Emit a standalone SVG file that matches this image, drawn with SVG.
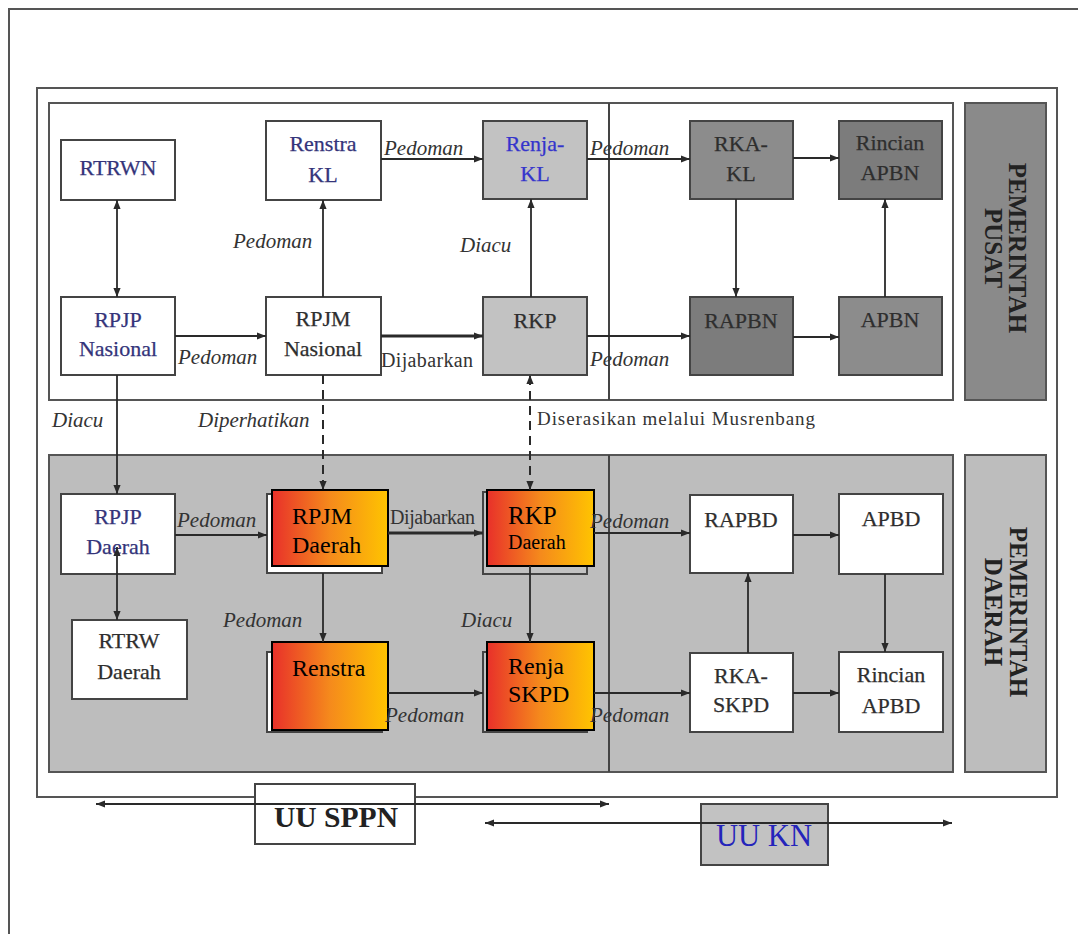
<svg xmlns="http://www.w3.org/2000/svg" width="1078" height="934" viewBox="0 0 1078 934">
<style>
.frame{fill:none;stroke:#555;stroke-width:2}
.panelTop{fill:#fff;stroke:#555;stroke-width:2}
.panelBot{fill:#bdbdbd;stroke:#555;stroke-width:2}
.side1{fill:#8a8a8a;stroke:#555;stroke-width:2}
.side2{fill:#bdbdbd;stroke:#555;stroke-width:2}
.w{fill:#fff;stroke:#444;stroke-width:2}
.g1{fill:#c2c2c2;stroke:#444;stroke-width:2}
.g2{fill:#8c8c8c;stroke:#444;stroke-width:2}
.g3{fill:#7c7c7c;stroke:#444;stroke-width:2}
.ov{fill:url(#grad);stroke:#000;stroke-width:2}
.t{font-family:"Liberation Serif",serif;font-size:22px;fill:#2e2e2e;text-anchor:middle;stroke:#2e2e2e;stroke-width:0.25}
.tb{fill:#34347a;stroke:#34347a}
.tbb{fill:#3434cc;stroke:#3434cc}
.ot{font-family:"Liberation Serif",serif;font-size:24px;fill:#000}
.lab{font-family:"Liberation Serif",serif;font-size:21px;font-style:italic;fill:#333}
.labn{font-family:"Liberation Serif",serif;font-size:20px;fill:#333}
.side{font-family:"Liberation Serif",serif;font-size:25px;font-weight:bold;fill:#222;text-anchor:middle}
.c{stroke:#2a2a2a;stroke-width:1.8;fill:none}
.thick{stroke-width:3.2}
.dash{stroke-dasharray:9,6;stroke-width:2}
</style>
<defs>
<linearGradient id="grad" x1="0" y1="0" x2="1" y2="0">
<stop offset="0" stop-color="#e8302a"/>
<stop offset="0.5" stop-color="#f58a1c"/>
<stop offset="1" stop-color="#ffc400"/>
</linearGradient>
<marker id="ah" viewBox="0 0 10 10" refX="10" refY="5" markerWidth="9" markerHeight="9" markerUnits="userSpaceOnUse" orient="auto-start-reverse">
<path d="M0,1 L10,5 L0,9 z" fill="#2a2a2a"/>
</marker>
</defs>
<rect width="1078" height="934" fill="#fff"/>
<g id="background">
<path d="M9,934 V9 H1078" class="frame"/>
<rect x="37" y="88" width="1020" height="709" class="frame"/>
<rect x="49" y="103" width="904" height="297" class="panelTop"/>
<rect x="49" y="455" width="904" height="317" class="panelBot"/>
<line x1="609" y1="103" x2="609" y2="400" stroke="#444" stroke-width="2"/>
<line x1="609" y1="455" x2="609" y2="772" stroke="#444" stroke-width="2"/>
</g>
<g id="pemerintah-pusat">
<rect x="965" y="103" width="81" height="297" class="side1"/>
<text class="side" transform="translate(1009,248) rotate(90)">PEMERINTAH</text>
<text class="side" transform="translate(985,248) rotate(90)">PUSAT</text>
</g>
<g id="pemerintah-daerah">
<rect x="965" y="455" width="81" height="317" class="side2"/>
<text class="side" transform="translate(1010,612) rotate(90)">PEMERINTAH</text>
<text class="side" transform="translate(985,612) rotate(90)">DAERAH</text>
</g>
<g id="rtrwn"><rect x="61" y="140" width="114" height="60" class="w"/><text class="t tb" x="118" y="175">RTRWN</text></g>
<g id="renstra-kl"><rect x="266" y="121" width="115" height="79" class="w"/><text class="t tb" x="323" y="151">Renstra</text><text class="t tb" x="323" y="182">KL</text></g>
<g id="renja-kl"><rect x="483" y="121" width="104" height="78" class="g1"/><text class="t tbb" x="535" y="151">Renja-</text><text class="t tbb" x="535" y="181">KL</text></g>
<g id="rka-kl"><rect x="690" y="121" width="103" height="78" class="g2"/><text class="t" x="741" y="151">RKA-</text><text class="t" x="741" y="181">KL</text></g>
<g id="rincian-apbn"><rect x="839" y="121" width="103" height="78" class="g3"/><text class="t" x="890" y="150">Rincian</text><text class="t" x="890" y="180">APBN</text></g>
<g id="rpjp-nasional"><rect x="61" y="297" width="114" height="78" class="w"/><text class="t tb" x="118" y="327">RPJP</text><text class="t tb" x="118" y="356">Nasional</text></g>
<g id="rpjm-nasional"><rect x="266" y="297" width="115" height="78" class="w"/><text class="t" x="323" y="326">RPJM</text><text class="t" x="323" y="356">Nasional</text></g>
<g id="rkp"><rect x="483" y="297" width="104" height="78" class="g1"/><text class="t" x="535" y="328">RKP</text></g>
<g id="rapbn"><rect x="690" y="297" width="103" height="78" class="g3"/><text class="t" x="741" y="328">RAPBN</text></g>
<g id="apbn"><rect x="839" y="297" width="103" height="78" class="g2"/><text class="t" x="890" y="327">APBN</text></g>
<g id="rpjp-daerah"><rect x="61" y="494" width="114" height="80" class="w"/><text class="t tb" x="118" y="524">RPJP</text><text class="t tb" x="118" y="554">Daerah</text></g>
<g id="rtrw-daerah"><rect x="72" y="620" width="115" height="79" class="w"/><text class="t" x="129" y="648">RTRW</text><text class="t" x="129" y="679">Daerah</text></g>
<g id="rpjm-daerah"><rect x="267" y="494" width="115" height="79" class="w"/><rect x="272" y="490" width="116" height="76" class="ov"/><text class="ot" x="292" y="524">RPJM</text><text class="ot" x="292" y="553">Daerah</text></g>
<g id="renstra-skpd"><rect x="267" y="652" width="115" height="80" class="w"/><rect x="272" y="642" width="116" height="88" class="ov"/><text class="ot" x="292" y="676">Renstra</text></g>
<g id="rkp-daerah"><rect x="483" y="492" width="104" height="82" class="g1"/><rect x="487" y="490" width="107" height="76" class="ov"/><text class="ot" x="508" y="524" style="font-size:25px">RKP</text><text class="ot" x="508" y="549" style="font-size:20px">Daerah</text></g>
<g id="renja-skpd"><rect x="483" y="652" width="104" height="80" class="g1"/><rect x="487" y="642" width="107" height="88" class="ov"/><text class="ot" x="508" y="674">Renja</text><text class="ot" x="508" y="702">SKPD</text></g>
<g id="rapbd"><rect x="690" y="495" width="103" height="78" class="w"/><text class="t" x="741" y="527">RAPBD</text></g>
<g id="apbd"><rect x="839" y="494" width="104" height="80" class="w"/><text class="t" x="891" y="526">APBD</text></g>
<g id="rka-skpd"><rect x="690" y="653" width="103" height="79" class="w"/><text class="t" x="741" y="683">RKA-</text><text class="t" x="741" y="712">SKPD</text></g>
<g id="rincian-apbd"><rect x="839" y="652" width="104" height="80" class="w"/><text class="t" x="891" y="682">Rincian</text><text class="t" x="891" y="713">APBD</text></g>
<g id="uu-sppn"><rect x="255" y="784" width="160" height="60" fill="#fff" stroke="#444" stroke-width="2"/><text x="274" y="827" textLength="124" lengthAdjust="spacingAndGlyphs" style="font-family:'Liberation Serif',serif;font-size:30px;font-weight:bold;fill:#222">UU SPPN</text></g>
<g id="uu-kn"><rect x="701" y="804" width="127" height="61" fill="#c2c2c2" stroke="#444" stroke-width="2"/><text x="716" y="846" textLength="96" lengthAdjust="spacingAndGlyphs" style="font-family:'Liberation Serif',serif;font-size:31px;fill:#2424bb">UU KN</text></g>
<g id="connectors">
<line class="c" x1="117" y1="200" x2="117" y2="297" marker-start="url(#ah)" marker-end="url(#ah)"/>
<line class="c" x1="175" y1="336" x2="266" y2="336" marker-end="url(#ah)"/>
<line class="c" x1="323" y1="297" x2="323" y2="200" marker-end="url(#ah)"/>
<line class="c" x1="381" y1="159" x2="483" y2="159" marker-end="url(#ah)"/>
<line class="c" x1="587" y1="159" x2="690" y2="159" marker-end="url(#ah)"/>
<line class="c" x1="793" y1="158" x2="839" y2="158" marker-end="url(#ah)"/>
<line class="c" x1="736" y1="199" x2="736" y2="297" marker-end="url(#ah)"/>
<line class="c" x1="885" y1="297" x2="885" y2="199" marker-end="url(#ah)"/>
<line class="c" x1="793" y1="337" x2="839" y2="337" marker-end="url(#ah)"/>
<line class="c" x1="531" y1="297" x2="531" y2="199" marker-end="url(#ah)"/>
<line class="c thick" x1="381" y1="336" x2="483" y2="336" marker-end="url(#ah)"/>
<line class="c" x1="587" y1="336" x2="690" y2="336" marker-end="url(#ah)"/>
<line class="c" x1="117" y1="375" x2="117" y2="494" marker-end="url(#ah)"/>
<line class="c dash" x1="323" y1="375" x2="323" y2="490" marker-end="url(#ah)"/>
<line class="c dash" x1="530" y1="490" x2="530" y2="375" marker-start="url(#ah)" marker-end="url(#ah)"/>
<line class="c" x1="175" y1="535" x2="267" y2="535" marker-end="url(#ah)"/>
<line class="c" x1="117" y1="547" x2="117" y2="620" marker-start="url(#ah)" marker-end="url(#ah)"/>
<line class="c thick" x1="388" y1="533" x2="483" y2="533" marker-end="url(#ah)"/>
<line class="c" x1="323" y1="573" x2="323" y2="642" marker-end="url(#ah)"/>
<line class="c" x1="388" y1="693" x2="483" y2="693" marker-end="url(#ah)"/>
<line class="c" x1="530" y1="566" x2="530" y2="642" marker-end="url(#ah)"/>
<line class="c" x1="594" y1="533" x2="690" y2="533" marker-end="url(#ah)"/>
<line class="c" x1="594" y1="693" x2="690" y2="693" marker-end="url(#ah)"/>
<line class="c" x1="748" y1="653" x2="748" y2="573" marker-end="url(#ah)"/>
<line class="c" x1="793" y1="535" x2="839" y2="535" marker-end="url(#ah)"/>
<line class="c" x1="885" y1="574" x2="885" y2="652" marker-end="url(#ah)"/>
<line class="c" x1="793" y1="693" x2="839" y2="693" marker-end="url(#ah)"/>
<line class="c" x1="96" y1="804" x2="609" y2="804" marker-start="url(#ah)" marker-end="url(#ah)"/>
<line class="c" x1="485" y1="823" x2="952" y2="823" marker-start="url(#ah)" marker-end="url(#ah)"/>
</g>
<g id="labels">
<text class="lab" x="178" y="364">Pedoman</text>
<text class="lab" x="233" y="248">Pedoman</text>
<text class="lab" x="384" y="155">Pedoman</text>
<text class="lab" x="590" y="155">Pedoman</text>
<text class="lab" x="460" y="252">Diacu</text>
<text class="labn" x="381" y="367" textLength="92">Dijabarkan</text>
<text class="lab" x="590" y="366">Pedoman</text>
<text class="lab" x="52" y="427">Diacu</text>
<text class="lab" x="198" y="427">Diperhatikan</text>
<text class="labn" x="537" y="425" textLength="278" style="font-size:19px">Diserasikan melalui Musrenbang</text>
<text class="lab" x="177" y="527">Pedoman</text>
<text class="labn" x="390" y="524" textLength="85">Dijabarkan</text>
<text class="lab" x="223" y="627">Pedoman</text>
<text class="lab" x="461" y="627">Diacu</text>
<text class="lab" x="590" y="528">Pedoman</text>
<text class="lab" x="385" y="722">Pedoman</text>
<text class="lab" x="590" y="722">Pedoman</text>
</g>
</svg>
